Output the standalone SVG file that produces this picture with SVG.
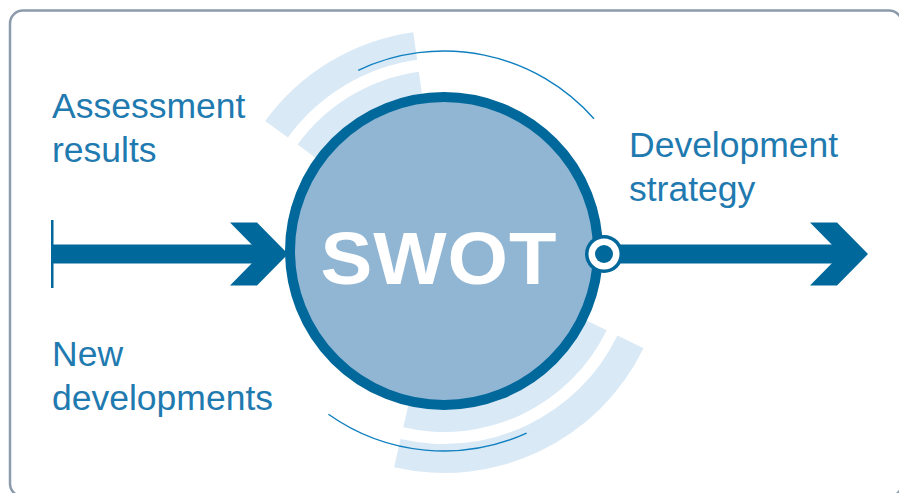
<svg xmlns="http://www.w3.org/2000/svg" width="899" height="493" viewBox="0 0 899 493">
  <style>
    .label { font-family: "Liberation Sans", Arial, sans-serif; font-size: 35.5px; fill: #1f7ab0; }
    .band { fill: #d9e9f6; }
    .thin { fill: none; stroke: #0f7fc0; stroke-width: 1.4; }
    .dark { fill: #00689b; }
  </style>
  <rect x="10" y="10.5" width="892" height="486" rx="13" fill="#ffffff" stroke="#8b9bab" stroke-width="2.5"/>

  <g id="decor">
    <path class="band" d="M413.24,32.15 A221,221 0 0 0 265.21,121.10 L287.86,137.55 A193,193 0 0 1 417.13,59.87 Z"/>
    <path class="band" d="M418.81,71.75 A181,181 0 0 0 297.57,144.61 L318.60,159.89 A155,155 0 0 1 422.42,97.50 Z"/>
    <path class="band" d="M394.06,467.31 A222,222 0 0 0 643.53,348.32 L617.47,335.61 A193,193 0 0 1 400.58,439.06 Z"/>
    <path class="band" d="M403.27,427.37 A181,181 0 0 0 606.68,330.35 L583.31,318.95 A155,155 0 0 1 409.12,402.03 Z"/>
    <path class="thin" d="M358.22,70.34 A200,200 0 0 1 594.02,118.74"/>
    <path class="thin" d="M328.42,414.22 A200,200 0 0 0 526.62,433.14"/>
  </g>

  <g id="connectors">
    <rect class="dark" x="51" y="220" width="2.5" height="68"/>
    <rect class="dark" x="52" y="244.5" width="210" height="19"/>
    <polygon class="dark" points="230,222.5 257,222.5 288,254 257,285.5 230,285.5 261,254"/>
    <rect class="dark" x="604" y="244.5" width="238" height="19"/>
    <polygon class="dark" points="810,222.5 837,222.5 868,254 837,285.5 810,285.5 841,254"/>
  </g>

  <g id="swot">
    <circle cx="444" cy="251" r="154" fill="#91b6d4" stroke="#00689b" stroke-width="10"/>
    <text transform="translate(439,284) scale(1.05,1)" x="0" y="0" text-anchor="middle" font-family="'Liberation Sans', Arial, sans-serif" font-weight="bold" font-size="74" letter-spacing="1" fill="#ffffff">SWOT</text>
    <circle cx="604" cy="254" r="19" fill="#00689b"/>
    <circle cx="604" cy="254" r="15.5" fill="#ffffff"/>
    <circle cx="604" cy="254" r="9" fill="#00689b"/>
  </g>

  <g id="assessment">
    <text class="label" x="52" y="118">Assessment</text>
    <text class="label" x="52" y="162">results</text>
  </g>
  <g id="new-developments">
    <text class="label" x="52" y="366">New</text>
    <text class="label" x="52" y="410">developments</text>
  </g>
  <g id="development-strategy">
    <text class="label" x="629" y="157">Development</text>
    <text class="label" x="629" y="201">strategy</text>
  </g>
</svg>
